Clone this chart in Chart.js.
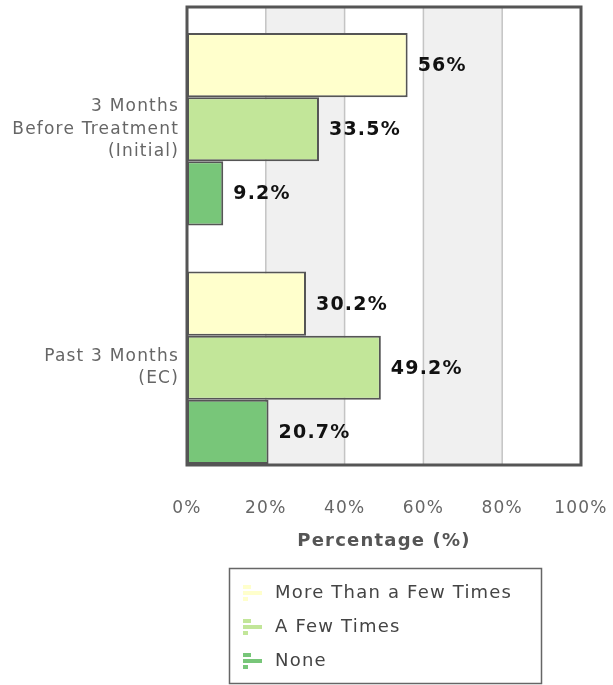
<!DOCTYPE html>
<html><head><meta charset="utf-8">
<script src="https://cdn.jsdelivr.net/npm/chart.js@4/dist/chart.umd.min.js"></script>
<style>html,body{margin:0;padding:0;background:#fff}#wrap{width:613px;height:685px}</style>
</head><body><div id="wrap"><canvas id="c" width="613" height="685"></canvas></div>
<script>
const categories = [["3 Months","Before Treatment","(Initial)"],["Past 3 Months","(EC)"]];
const seriesNames = ["More Than a Few Times","A Few Times","None"];
const moreThanFew = [56, 30.2];
const aFewTimes = [33.5, 49.2];
const noneVals = [9.2, 20.7];
const tickValues = [0,20,40,60,80,100];
const colors = ["#FFFFCC","#C2E699","#78C679"];
const FONT = "'DejaVu Sans', Verdana, sans-serif";
const SPACING = '1.2px';

function frameRect(chart){
  const a = chart.chartArea;
  return {left:a.left, right:a.right, top:a.top-3, bottom:a.bottom-22};
}

const bandsPlugin = {
  id:'bands',
  beforeLayout(chart){ chart.ctx.letterSpacing = SPACING; },
  beforeDraw(chart){ chart.ctx.letterSpacing = SPACING; },
  beforeDatasetsDraw(chart){
    const {ctx, scales:{x}} = chart;
    const f = frameRect(chart);
    ctx.save();
    ctx.fillStyle = '#f0f0f0';
    [[20,40],[60,80]].forEach(([s,e])=>{
      const x0=x.getPixelForValue(s), x1=x.getPixelForValue(e);
      ctx.fillRect(x0,f.top,x1-x0,f.bottom-f.top);
    });
    ctx.strokeStyle='#c4c4c4'; ctx.lineWidth=1.5;
    [20,40,60,80].forEach(v=>{
      const px=x.getPixelForValue(v);
      ctx.beginPath(); ctx.moveTo(px,f.top); ctx.lineTo(px,f.bottom); ctx.stroke();
    });
    ctx.restore();
  },
  afterDatasetsDraw(chart){
    const {ctx} = chart;
    const f = frameRect(chart);
    ctx.save();
    ctx.letterSpacing = SPACING;
    ctx.font = "bold 19px "+FONT;
    ctx.fillStyle='#111'; ctx.textBaseline='middle'; ctx.textAlign='left';
    chart.data.datasets.forEach((ds,i)=>{
      chart.getDatasetMeta(i).data.forEach((bar,j)=>{
        ctx.fillText(ds.data[j]+'%', bar.x+10, bar.y+1);
      });
    });
    ctx.strokeStyle='#555'; ctx.lineWidth=3;
    ctx.strokeRect(f.left, f.top, f.right-f.left, f.bottom-f.top);
    ctx.restore();
  },
  afterDraw(chart){
    const {ctx} = chart;
    ctx.save();
    ctx.letterSpacing = SPACING;
    const bx=229.5, by=568.5, bw=312, bh=115;
    ctx.strokeStyle='#666'; ctx.lineWidth=1.5;
    ctx.strokeRect(bx,by,bw,bh);
    ctx.font = "18px "+FONT; ctx.textBaseline='middle'; ctx.textAlign='left';
    chart.data.datasets.forEach((ds,i)=>{
      const cy = 593 + i*34;
      const ix = 243;
      ctx.fillStyle = ds.backgroundColor;
      ctx.fillRect(ix, cy-8, 8, 4);
      ctx.fillRect(ix, cy-2, 19, 4);
      ctx.fillRect(ix, cy+4, 5, 4);
      ctx.fillStyle='#444';
      ctx.fillText(ds.label, 275, cy);
    });
    ctx.restore();
  }
};

new Chart(document.getElementById('c'), {
  type:'bar',
  data:{
    labels: categories,
    datasets:[
      {label:seriesNames[0], data:moreThanFew, backgroundColor:colors[0]},
      {label:seriesNames[1], data:aFewTimes, backgroundColor:colors[1]},
      {label:seriesNames[2], data:noneVals, backgroundColor:colors[2]}
    ].map(d=>Object.assign(d,{borderColor:'#555',borderWidth:2,borderSkipped:false,categoryPercentage:0.807,barPercentage:1}))
  },
  options:{
    indexAxis:'y',
    responsive:false,
    animation:false,
    devicePixelRatio:1,
    layout:{padding:{top:10,right:32,bottom:130,left:0}},
    plugins:{legend:{display:false},tooltip:{enabled:false}},
    scales:{
      x:{
        min:0,max:100,
        afterBuildTicks(s){ s.ticks = tickValues.map(v=>({value:v})); },
        afterFit(s){ s.height = 68; s.paddingLeft = 0; s.paddingRight = 0; },
        grid:{display:false,drawTicks:false},
        border:{display:false},
        ticks:{padding:11,color:'#666',font:{family:FONT,size:17},callback:v=>v+'%',maxRotation:0,autoSkip:false},
        title:{display:true,text:'Percentage (%)',color:'#555',font:{family:FONT,size:18,weight:'bold'},padding:{top:0,bottom:3}}
      },
      y:{
        afterFit(s){ s.width = 187; s.paddingTop = 0; s.paddingBottom = 0; },
        grid:{display:false,drawTicks:false},
        border:{display:false},
        ticks:{padding:8,color:'#666',font:{family:FONT,size:17,lineHeight:1.32}}
      }
    }
  },
  plugins:[bandsPlugin]
});
</script></body></html>
